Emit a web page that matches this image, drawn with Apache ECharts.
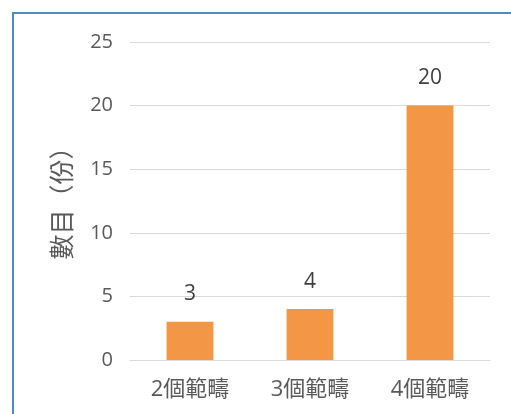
<!DOCTYPE html>
<html>
<head>
<meta charset="utf-8">
<script src="https://cdn.jsdelivr.net/npm/echarts@6/dist/echarts.min.js"></script>
<style>
  html, body { margin: 0; padding: 0; background: #fff; }
  #chart { width: 511px; height: 414px; }
</style>
</head>
<body>
<div id="chart"></div>
<script>
// Number of responses by how many categories they cover
const categories = ['2個範疇', '3個範疇', '4個範疇'];
const counts = [3, 4, 20];
const yTicks = { min: 0, max: 25, interval: 5 };
const yAxisName = '數目（份）';

const chart = echarts.init(document.getElementById('chart'), null, { renderer: 'canvas' });

const fontFamily = '"Open Sans", "Noto Sans CJK TC", "Noto Sans", sans-serif';

chart.setOption({
  animation: false,
  backgroundColor: '#ffffff',
  graphic: [{
    type: 'rect',
    shape: { x: 13, y: 13, width: 600, height: 500 },
    style: { fill: 'none', stroke: '#4a8fc0', lineWidth: 2 },
    silent: true,
    z: 100
  }],
  grid: { left: 130, right: 21, top: 42, bottom: 54, containLabel: false },
  xAxis: {
    type: 'category',
    data: categories,
    axisLine: { show: true, lineStyle: { color: '#d9d9d9', width: 1 } },
    axisTick: { show: false },
    axisLabel: {
      color: '#595959',
      fontSize: 22,
      fontFamily: fontFamily,
      margin: 19
    }
  },
  yAxis: {
    type: 'value',
    min: yTicks.min,
    max: yTicks.max,
    interval: yTicks.interval,
    name: yAxisName,
    nameLocation: 'middle',
    nameRotate: 90,
    nameGap: 56,
    nameTextStyle: {
      color: '#595959',
      fontSize: 25,
      fontFamily: '"Noto Sans CJK TC", sans-serif',
      padding: [0, 0, 0, 8]
    },
    axisLine: { show: false },
    axisTick: { show: false },
    splitLine: { lineStyle: { color: '#d9d9d9', width: 1 } },
    axisLabel: {
      color: '#595959',
      fontSize: 20,
      fontFamily: fontFamily,
      margin: 17
    }
  },
  series: [{
    type: 'bar',
    data: counts,
    barWidth: '39%',
    itemStyle: { color: '#f39645' },
    label: {
      show: true,
      position: 'top',
      distance: 17,
      color: '#404040',
      fontSize: 21,
      fontFamily: fontFamily
    }
  }]
});
</script>
</body>
</html>
